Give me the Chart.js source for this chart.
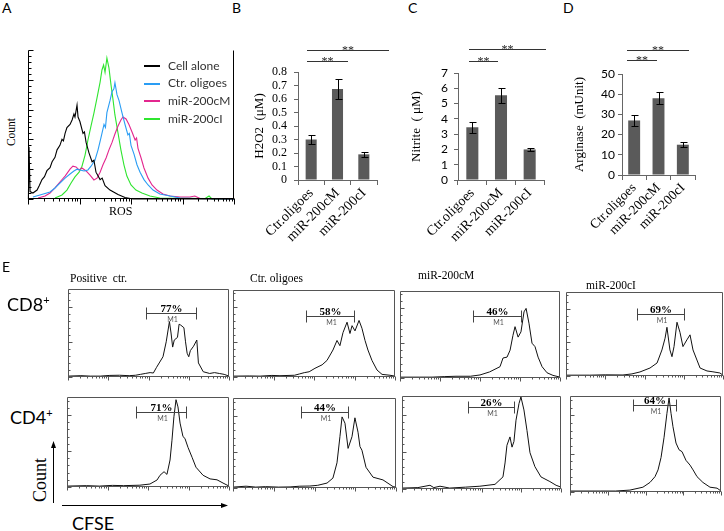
<!DOCTYPE html>
<html><head><meta charset="utf-8">
<script src="https://cdn.jsdelivr.net/npm/chart.js@4.4.1/dist/chart.umd.min.js"></script>
<style>
html,body{margin:0;padding:0;background:#fff;}
#root{position:relative;width:724px;height:531px;overflow:hidden;background:#fff;}
.t{position:absolute;white-space:nowrap;color:#000;}
canvas{position:absolute;}
</style></head><body><div id="root"></div>
<script>
// ---------- DATA ----------
const rosSeries = ['Cell alone', 'Ctr. oligoes', 'miR-200cM', 'miR-200cI'];
const rosCellAlone = [[0.2,0],[0.5,35],[1,5],[2.4,4],[4.4,6],[5.5,9],[6.8,13],[8,15],[9.2,19],[10.7,21],[11.7,25],[13.1,28],[14.1,33],[15.5,36],[16.5,40],[17.2,39],[18,44],[18.9,48],[20.4,50],[21.4,53],[22.3,57],[22.8,55],[23.3,59],[23.8,63],[24.3,55],[25.2,52],[26.7,44],[27.4,45],[28.2,38],[29.6,31],[31.1,25],[32,26],[33,18],[35,13],[36,14],[37.4,9],[39.8,6],[43.7,3],[47.1,1],[51,0],[100,0]];
const rosCtr = [[2.4,1.3],[5.8,2.7],[10.7,4.7],[13.1,7.4],[15.5,10.7],[18,14],[20.4,16.8],[22.3,18.8],[23.8,20],[25.2,19.5],[27.2,18.8],[29.1,19.5],[30.6,22],[32.5,26],[34,33],[35.4,41],[36.9,50],[37.6,48],[38.3,58],[39.8,66],[40.8,72],[41.7,74],[42.2,78],[43.2,70],[44.2,66],[45.6,58],[47.1,50],[48.5,43],[49.2,44],[50,36],[51.5,30],[52.9,23],[54.4,18],[56.3,13],[58.3,9.4],[60.7,6],[64,3.4],[69,2],[73.8,0.7],[81,0.3],[100,0]];
const rosM = [[4.9,0.7],[8.3,2],[10.7,4],[13.1,7.4],[15.5,11.4],[18,15.4],[20.4,20],[21.8,22],[23.3,21.5],[24.8,19.5],[26.2,20.8],[28.2,18.8],[30.1,16],[32,12.8],[33.5,14],[35,18],[36.4,23],[37.9,27.5],[39.3,33],[40.8,38],[42.2,43.6],[43.7,49],[45.1,53],[46.1,55],[47.6,53.7],[49,50],[50.5,45],[52,39.6],[52.7,41],[53.4,34],[54.9,27.5],[56.3,20.8],[58.3,14],[60.2,9.4],[62.6,6],[65.5,3.4],[68.9,2],[73.8,1.3],[78.6,1.3],[81,2],[83.5,0.3],[100,0]];
const rosI = [[13.1,0.7],[16.5,2.7],[18.9,6],[20.9,10.7],[22.8,14.8],[24.8,18],[26.2,22],[27.7,29.5],[29.1,39.6],[30.6,49],[32,57.7],[33.5,67.8],[35,78.5],[35.9,86.6],[36.7,90],[37.4,85],[38.3,94.6],[39.3,88],[40.3,76.5],[41.3,66.4],[42.2,56.4],[43.7,44.3],[45.1,33],[46.6,22.8],[48,15.4],[50,9.4],[52.4,6],[55.3,4],[59.2,2],[64,0.7],[86,0.3],[87.9,2],[89.3,0],[100,0]];

const barCategories = ['Ctr.oligoes', 'miR-200cM', 'miR-200cI'];
const h2o2Values = [0.30, 0.675, 0.19];
const h2o2Errors = [0.03, 0.075, 0.018];
const nitriteValues = [3.45, 5.55, 2.0];
const nitriteErrors = [0.35, 0.5, 0.1];
const arginaseValues = [27, 38, 15];
const arginaseErrors = [2.5, 3.0, 1.2];
const h2o2Ticks = [0, 0.8, 0.1];
const nitriteTicks = [0, 7, 1];
const arginaseTicks = [0, 50, 10];

const groupNames = ['Positive  ctr.', 'Ctr. oligoes', 'miR-200cM', 'miR-200cI'];
const cd8Pos = [[0,1],[8,1.5],[14,1],[20,1],[26,1.8],[32,2],[38,1.5],[42,2],[45,3],[48,4],[51,5],[53,4.5],[55,11],[57,17],[59,23],[61,40],[63,63],[64,50],[65,34],[66,42],[68,45],[69,60],[70,59],[72,56],[73,40],[74,27],[75,23],[76,30],[78,35],[80,42],[81,16],[84,6],[88,4],[91,5],[94,4],[97,3],[100,1]];
const cd8Ctr = [[0,1],[10,1.2],[16.7,1],[24,1.8],[29,1.5],[38,2],[41,3.5],[44,5],[47,6],[50.6,10],[55,14],[58,19],[61.7,31],[64.2,42],[66,36],[67.9,51],[70.4,63],[72.2,50],[73.5,59],[75.3,53],[77.8,65],[79.6,56],[81.5,42],[83.3,31],[85.8,19],[88.9,8],[92,3],[96.9,2],[100,1]];
const cd8M = [[0,1],[12,1],[20,1],[28,1.6],[35,2],[44,2],[50,3.5],[56,7],[62.5,13],[64.4,23],[66.9,24],[68.8,32],[70.6,49],[71.9,59],[73.8,47],[75.6,53],[77.5,76],[78.8,80],[80.6,63],[82.5,40],[84.4,36],[86.3,24],[88.8,13],[91.9,6],[95.6,3],[100,1]];
const cd8I = [[0,1],[15,1],[25,1.4],[36.3,1.2],[42,2.5],[47.1,4.8],[53.5,9.5],[58,15.5],[61.1,31],[63.1,45],[64.3,58],[66.2,31],[67.5,23],[68.8,35],[70.7,64],[72.6,52],[74.5,35],[77,43],[79,49],[80.9,31],[83.4,19],[85.4,9.5],[89.8,6],[93.6,5],[98,3.6],[100,1]];
const cd4Pos = [[0,1],[12,1.5],[20,1],[28,1.8],[35,1.5],[45,2],[51.2,3.3],[55.6,7.8],[57.4,13],[59.9,17],[61.7,14],[63.6,30],[64.8,52],[66,78],[67.3,97],[68.5,89],[69.8,71],[71.6,56],[72.8,54],[74.7,44],[77.2,33],[79.6,22],[84,13],[88.3,9],[92.6,8],[96.3,4.4],[100,1]];
const cd4Ctr = [[0,1],[8,2],[14,1],[20,1.5],[28,1],[35,1.2],[41,2],[47.2,2.2],[52,3],[57.7,5.5],[61.3,11],[63.8,28],[65.6,57],[66.9,79],[68.7,72],[70.6,44],[73,57],[74.8,78],[76.7,62],[77.9,46],[79.1,42],[81.6,23],[85.9,12],[92,9],[98.2,1.5],[100,1]];
const cd4M = [[0,1],[10,1.5],[17.6,4],[20,1.5],[23.9,3],[30,1],[40,2],[49,3],[58.5,5],[63.5,13],[64.8,28],[66,47],[67.9,56],[69.2,45],[70.4,51],[71.7,74],[73.6,92],[74.8,99],[76.7,85],[78.6,63],[80.5,39],[83.6,24],[87.4,13],[93,8],[96.9,4],[100,2]];
const cd4I = [[0,1],[20,1],[30,1],[39.7,2],[48.3,5],[53,10],[56.3,16],[58.3,23],[60.3,36],[62.3,57],[64.2,82],[65.6,98],[66.9,82],[68.2,68],[70.2,51],[72.2,44],[74.2,42],[76.8,33],[79.5,28],[81.5,23],[84.1,16],[88,10],[92.7,5],[97.4,4],[100,1]];
const cd8Percent = ['77%', '58%', '46%', '69%'];
const cd4Percent = ['71%', '44%', '26%', '64%'];

// ---------- HELPERS ----------
const serif = '"Liberation Serif","Times New Roman",serif';
const sans = 'Lato,"Liberation Sans",Arial,sans-serif';
const root = document.getElementById('root');
function addCanvas(l, t, w, h) {
  const c = document.createElement('canvas');
  c.width = w; c.height = h;
  c.style.left = l + 'px'; c.style.top = t + 'px';
  c.style.width = w + 'px'; c.style.height = h + 'px';
  root.appendChild(c); return c;
}
function addText(html, l, t, font, extra) {
  const d = document.createElement('div');
  d.className = 't'; d.innerHTML = html;
  d.style.left = l + 'px'; d.style.top = t + 'px'; d.style.font = font;
  if (extra) Object.assign(d.style, extra);
  root.appendChild(d); return d;
}

const framePlugin = {
  id: 'frame',
  afterDatasetsDraw(chart, args, o) {
    const { ctx, chartArea: a } = chart;
    const L = Math.round(a.left) + 0.5, R = Math.round(a.right) - 0.5, T = Math.round(a.top) + 0.5, B = Math.round(a.bottom) - 0.5;
    ctx.save(); ctx.strokeStyle = o.color || '#000'; ctx.lineWidth = 1; ctx.beginPath();
    (o.sides || []).forEach(s => {
      if (s === 'left') { ctx.moveTo(L, T); ctx.lineTo(L, B); }
      if (s === 'right') { ctx.moveTo(R, T); ctx.lineTo(R, B); }
      if (s === 'top') { ctx.moveTo(L, T); ctx.lineTo(R, T); }
      if (s === 'bottom') { ctx.moveTo(L - 0.5, B); ctx.lineTo(R + 0.5, B); }
    });
    if (o.xLog) {
      const xs = chart.scales.x, dec = o.xLog.decades;
      for (let d = 0; d <= dec; d++) for (let k = 1; k < 10; k++) {
        if (d === dec && k > 1) break;
        const v = (d + Math.log10(k)) / dec * 100;
        const px = Math.round(xs.getPixelForValue(v)) + 0.5;
        const len = k === 1 ? o.xLog.major : o.xLog.minor;
        ctx.moveTo(px, B); ctx.lineTo(px, B + len);
      }
    }
    if (o.yTicks) {
      const ys = chart.scales.y;
      for (let v = 0; v <= 100; v += o.yTicks.step) {
        const py = Math.round(ys.getPixelForValue(v)) + 0.5;
        const len = (v % o.yTicks.majorEvery === 0) ? o.yTicks.major : o.yTicks.minor;
        ctx.moveTo(L, py); ctx.lineTo(L + len, py);
      }
    }
    ctx.stroke(); ctx.restore();
  }
};

const markerPlugin = {
  id: 'marker',
  afterDatasetsDraw(chart, args, o) {
    if (!o || o.x1 == null) return;
    const { ctx } = chart, xs = chart.scales.x, ys = chart.scales.y;
    const a = Math.round(xs.getPixelForValue(o.x1)) + 0.5, b = Math.round(xs.getPixelForValue(o.x2)) + 0.5;
    const y = Math.round(ys.getPixelForValue(o.y)) + 0.5;
    ctx.save(); ctx.strokeStyle = '#444'; ctx.lineWidth = 1; ctx.beginPath();
    ctx.moveTo(a, y); ctx.lineTo(b, y);
    ctx.moveTo(a, y - 6); ctx.lineTo(a, y + 6);
    ctx.moveTo(b, y - 6); ctx.lineTo(b, y + 6);
    ctx.stroke();
    ctx.fillStyle = '#000'; ctx.font = 'bold 11px ' + serif; ctx.textAlign = 'center'; ctx.textBaseline = 'alphabetic';
    ctx.fillText(o.label, (a + b) / 2, y - 2);
    ctx.fillStyle = '#555'; ctx.font = '7px ' + sans; ctx.textBaseline = 'top';
    ctx.fillText('M1', (a + b) / 2 + 1, y + 3);
    ctx.restore();
  }
};

const barExtras = {
  id: 'barExtras',
  afterDatasetsDraw(chart, args, o) {
    const { ctx } = chart, xs = chart.scales.x, ys = chart.scales.y;
    const ds = chart.data.datasets[0];
    ctx.save(); ctx.strokeStyle = '#000'; ctx.lineWidth = 1; ctx.beginPath();
    (o.errors || []).forEach((e, i) => {
      const v = ds.data[i];
      const x = Math.round(xs.getPixelForValue(i)) + 0.5;
      const y1 = Math.round(ys.getPixelForValue(v - e)) + 0.5, y2 = Math.round(ys.getPixelForValue(v + e)) + 0.5;
      ctx.moveTo(x, y1); ctx.lineTo(x, y2);
      ctx.moveTo(x - o.cap, y1); ctx.lineTo(x + o.cap + 1, y1);
      ctx.moveTo(x - o.cap, y2); ctx.lineTo(x + o.cap + 1, y2);
    });
    ctx.stroke();
    ctx.strokeStyle = '#333'; ctx.beginPath();
    ctx.fillStyle = '#222'; ctx.font = '12px ' + serif; ctx.textAlign = 'center'; ctx.textBaseline = 'alphabetic';
    (o.sig || []).forEach(s => {
      const a = Math.round(xs.getPixelForValue(s.from)), b = Math.round(xs.getPixelForValue(s.to));
      const y = Math.round(ys.getPixelForValue(s.at)) + 0.5;
      ctx.moveTo(a, y); ctx.lineTo(b, y);
      ctx.fillText('**', (a + b) / 2, y + 3.5);
    });
    ctx.stroke(); ctx.restore();
  }
};

function makeHist(box, datasets, frame, marker) {
  const P = 8;
  const [x1, y1, x2, y2] = box;
  const cv = addCanvas(x1 - P, y1 - P, x2 - x1 + 2 * P, y2 - y1 + 2 * P);
  return new Chart(cv, {
    type: 'line',
    data: { datasets },
    options: {
      responsive: false, animation: false, devicePixelRatio: 1,
      layout: { padding: P },
      plugins: { legend: { display: false }, tooltip: { enabled: false }, frame, marker: marker || {} },
      scales: {
        x: { type: 'linear', min: 0, max: 100, display: false },
        y: { type: 'linear', min: 0, max: 100, display: false }
      }
    },
    plugins: [framePlugin, markerPlugin]
  });
}
function lineDs(data, color, w) {
  return { data, borderColor: color, borderWidth: w || 1, pointRadius: 0, tension: 0, fill: false, clip: 3 };
}

function makeBar(geo, values, errors, tk, o) {
  const cv = addCanvas(geo.left, geo.top, geo.w, geo.h);
  return new Chart(cv, {
    type: 'bar',
    data: { labels: barCategories, datasets: [{ data: values, backgroundColor: '#5a5a5a', borderWidth: 0, barPercentage: o.barPct, categoryPercentage: 1 }] },
    options: {
      responsive: false, animation: false, devicePixelRatio: 1,
      layout: { padding: { top: geo.padTop, right: geo.padRight, left: 0, bottom: 0 } },
      plugins: { legend: { display: false }, tooltip: { enabled: false }, barExtras: { errors, sig: o.sig, cap: 3 } },
      scales: {
        x: {
          grid: { display: true, drawOnChartArea: false, drawTicks: true, tickLength: 5, color: '#666', offset: true },
          border: { color: '#666' },
          ticks: { maxRotation: 45, minRotation: 45, autoSkip: false, color: '#000', font: { family: serif, size: o.labelSize }, padding: 0 },
          afterFit(s) { s.height = geo.xh; s.paddingLeft = 0; s.paddingRight = 0; }
        },
        y: {
          min: tk[0], max: tk[1],
          ticks: { stepSize: tk[2], autoSkip: false, color: '#000', font: o.tickFont, padding: o.tickPad },
          grid: { drawOnChartArea: false, drawTicks: true, tickLength: 4, color: '#666' },
          border: { color: '#666' },
          title: { display: true, text: o.title, color: '#000', font: { family: serif, size: 13 }, padding: { top: o.titlePad, bottom: 0 } },
          afterFit(s) { s.width = geo.yw; }
        }
      }
    },
    plugins: [barExtras]
  });
}

// ---------- PANEL A ----------
const rosColors = ['#000000', '#2a9df4', '#e3268e', '#2fe52f'];
makeHist([28, 50, 234, 199],
  [lineDs(rosCellAlone, rosColors[0], 1.1), lineDs(rosCtr, rosColors[1], 1.1), lineDs(rosM, rosColors[2], 1.1), lineDs(rosI, rosColors[3], 1.1)],
  { sides: ['left', 'bottom', 'right'], color: '#000', xLog: { decades: 4, minor: 3, major: 6 }, yTicks: { step: 4, minor: 3, major: 5, majorEvery: 20 } });
rosSeries.forEach((name, i) => {
  const y = 66 + i * 17.7;
  const ln = document.createElement('div');
  ln.style.cssText = `position:absolute;left:144px;top:${Math.round(y) - 1}px;width:16px;height:2px;background:${rosColors[i]}`;
  root.appendChild(ln);
  addText(name, 168, y - 6.5, '12px/1 ' + sans, { color: '#333' });
});
addText('Count', 12, 132, '11.5px/1 ' + serif, { transform: 'translate(-50%,-50%) rotate(-90deg)' });
addText('ROS', 109, 205, '12px/1 ' + serif);

// ---------- PANELS B-D ----------
makeBar({ left: 238, top: 38, w: 152, h: 207, padTop: 34, padRight: 13, yw: 60, xh: 65 },
  h2o2Values, h2o2Errors, h2o2Ticks,
  { barPct: 0.42, labelSize: 14, title: 'H2O2  (μM)', titlePad: 14, tickPad: 7, tickFont: { family: serif, size: 12 },
    sig: [{ from: -0.15, to: 1.38, at: 0.882 }, { from: -0.15, to: 2.96, at: 0.963 }] });
makeBar({ left: 395, top: 38, w: 155, h: 207, padTop: 35, padRight: 6, yw: 63, xh: 65 },
  nitriteValues, nitriteErrors, nitriteTicks,
  { barPct: 0.42, labelSize: 14, title: 'Nitrite  ( μM)', titlePad: 14, tickPad: 6, tickFont: { family: sans, size: 12 },
    sig: [{ from: -0.1, to: 0.91, at: 7.78 }, { from: -0.1, to: 2.58, at: 8.57 }] });
makeBar({ left: 560, top: 38, w: 145, h: 207, padTop: 36, padRight: 10, yw: 62, xh: 70 },
  arginaseValues, arginaseErrors, arginaseTicks,
  { barPct: 0.49, labelSize: 13.5, title: 'Arginase  (mUnit)', titlePad: 12, tickPad: 3, tickFont: { family: sans, size: 12 },
    sig: [{ from: -0.29, to: 0.95, at: 56.9 }, { from: -0.29, to: 2.26, at: 61.9 }] });

// ---------- PANEL LETTERS ----------
addText('A', 2, 1, '14px/1 ' + sans);
addText('B', 232, 1, '14px/1 ' + sans);
addText('C', 408, 1, '14px/1 ' + sans);
addText('D', 563, 1, '14px/1 ' + sans);
addText('E', 2, 260, '14px/1 ' + sans);

// ---------- PANEL E ----------
const eFrame = { sides: ['left', 'bottom', 'right', 'top'], color: '#555', xLog: { decades: 4, minor: 2, major: 4 }, yTicks: { step: 8, minor: 2, major: 4, majorEvery: 40 } };
const cd8Boxes = [[68, 289, 229, 377], [233, 290, 395, 377], [400, 291, 560, 378], [566, 292, 723, 376]];
const cd4Boxes = [[67, 397, 229, 487], [233, 398, 396, 488], [402, 396, 561, 489], [570, 396, 721, 492]];
const cd8Gates = [[48.4, 79.5, 73], [45, 74.7, 70], [45.6, 75.6, 71], [45.2, 75.2, 74]];
const cd4Gates = [[42.6, 73.5, 83], [41.7, 70.6, 84], [41.5, 70.4, 88], [41.7, 70.2, 91]];
const cd8Data = [cd8Pos, cd8Ctr, cd8M, cd8I];
const cd4Data = [cd4Pos, cd4Ctr, cd4M, cd4I];
for (let i = 0; i < 4; i++) {
  makeHist(cd8Boxes[i], [lineDs(cd8Data[i], '#111', 1)], eFrame,
    { x1: cd8Gates[i][0], x2: cd8Gates[i][1], y: cd8Gates[i][2], label: cd8Percent[i] });
  makeHist(cd4Boxes[i], [lineDs(cd4Data[i], '#111', 1)], eFrame,
    { x1: cd4Gates[i][0], x2: cd4Gates[i][1], y: cd4Gates[i][2], label: cd4Percent[i] });
}
const titlePos = [[70, 273], [250, 273], [418, 270], [586, 280]];
groupNames.forEach((g, i) => addText(g.replace(/ /g, '&nbsp;'), titlePos[i][0], titlePos[i][1], '11.5px/1 ' + serif));
addText('CD8<span style="font-size:11px;vertical-align:7px">+</span>', 7, 294, '18px/1 ' + sans);
addText('CD4<span style="font-size:11px;vertical-align:7px">+</span>', 10, 407, '18px/1 ' + sans);
addText('Count', 40, 480, '18px/1 ' + serif, { transform: 'translate(-50%,-50%) rotate(-90deg)' });
addText('CFSE', 72, 514, '18px/1 ' + sans);
const svgNS = 'http://www.w3.org/2000/svg';
const svg = document.createElementNS(svgNS, 'svg');
svg.setAttribute('width', '724'); svg.setAttribute('height', '531');
svg.style.cssText = 'position:absolute;left:0;top:0;pointer-events:none';
svg.innerHTML = '<line x1="53.5" y1="503" x2="53.5" y2="446" stroke="#000" stroke-width="1"/>' +
  '<polygon points="53.5,441 51,448 56,448" fill="#000"/>' +
  '<line x1="62" y1="505.5" x2="223" y2="505.5" stroke="#000" stroke-width="1"/>' +
  '<polygon points="228,505.5 221,503 221,508" fill="#000"/>';
root.appendChild(svg);
</script>
</body></html>
